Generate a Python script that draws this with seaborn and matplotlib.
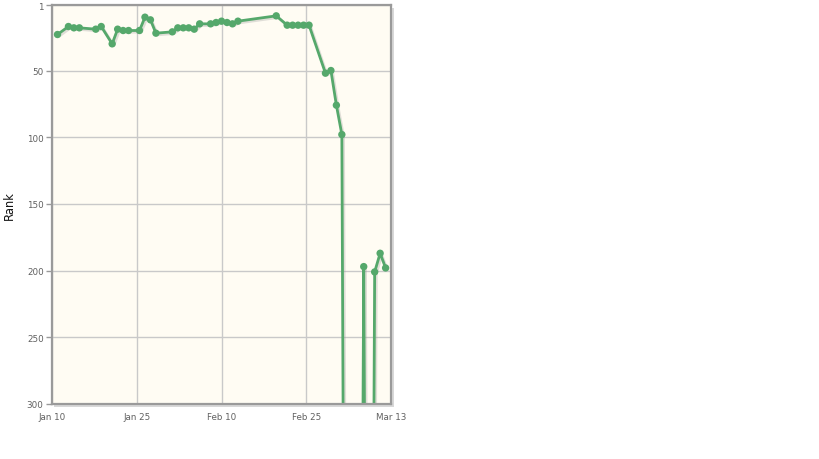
import numpy as np
import pandas as pd
import matplotlib
matplotlib.use("Agg")
import matplotlib.pyplot as plt
import matplotlib.patheffects as pe
from matplotlib.patches import Rectangle
import seaborn as sns

# daily rank readings (1000 = dropped out of the chart)
dates = ["2013-01-11", "2013-01-13", "2013-01-14", "2013-01-15", "2013-01-18",
         "2013-01-19", "2013-01-21", "2013-01-22", "2013-01-23", "2013-01-24",
         "2013-01-26", "2013-01-27", "2013-01-28", "2013-01-29", "2013-02-01",
         "2013-02-02", "2013-02-03", "2013-02-04", "2013-02-05", "2013-02-06",
         "2013-02-08", "2013-02-09", "2013-02-10", "2013-02-11", "2013-02-12",
         "2013-02-13", "2013-02-20", "2013-02-22", "2013-02-23", "2013-02-24",
         "2013-02-25", "2013-02-26", "2013-03-01", "2013-03-02", "2013-03-03",
         "2013-03-04", "2013-03-05", "2013-03-07", "2013-03-08", "2013-03-09",
         "2013-03-10", "2013-03-11", "2013-03-12"]
ranks = [23, 17, 18, 18, 19,
         17, 30, 19, 20, 20,
         20, 10, 12, 22, 21,
         18, 18, 18, 19, 15,
         15, 14, 13, 14, 15,
         13, 9, 16, 16, 16,
         16, 16, 52, 50, 76,
         98, 1000, 1000, 197, 1000,
         201, 187, 198]

tick_labels = ["Jan 10", "Jan 25", "Feb 10", "Feb 25", "Mar 13"]
rank_ticks = [1, 50, 100, 150, 200, 250, 300]

start = pd.Timestamp("2013-01-10")
days = (pd.to_datetime(dates) - start).days.astype(float)
df = pd.DataFrame({"day": days, "rank": ranks})

sns.set_style("white")
plt.rcParams["font.family"] = ["DejaVu Sans"]

fig = plt.figure(figsize=(8.19, 4.6), dpi=100)
ax = fig.add_axes([0.0635, 0.1196, 0.414, 0.867])
ax.set_facecolor("#fffcf3")

# drop shadow of the plot frame
shadow = Rectangle((0.0635 + 0.003, 0.1196 - 0.006), 0.414, 0.867,
                   transform=fig.transFigure, facecolor="#d8d8d8",
                   edgecolor="none", zorder=-1)
fig.patches.append(shadow)

green = "#55a86b"
sns.lineplot(data=df, x="day", y="rank", ax=ax, color=green, linewidth=2.0,
             marker="o", markersize=5.3, markeredgewidth=0, sort=False,
             path_effects=[pe.SimpleLineShadow(offset=(1.2, -1.2), shadow_color="#999999", alpha=0.3),
                           pe.Normal()])

ax.set_xlim(0, 62)
ax.set_ylim(300, 1)
ax.set_xticks(np.linspace(0, 62, 5))
ax.set_xticklabels(tick_labels)
ax.set_yticks(rank_ticks)
ax.set_yticklabels([str(r) for r in rank_ticks])

ax.grid(True, color="#c9c9c9", linewidth=1)
ax.set_axisbelow(True)
ax.tick_params(axis="x", length=0, pad=6, labelsize=6.3, labelcolor="#606060")
ax.tick_params(axis="y", length=4, width=1, color="#999999", pad=2,
               labelsize=6.3, labelcolor="#606060", left=True)

for s in ax.spines.values():
    s.set_color("#9a9a9a")
    s.set_linewidth(1.6)

ax.set_xlabel("")
ax.set_ylabel("Rank", fontsize=8.3, color="#111111")
ax.yaxis.set_label_coords(-0.108, 0.5)

fig.savefig("out.png", dpi=100)
